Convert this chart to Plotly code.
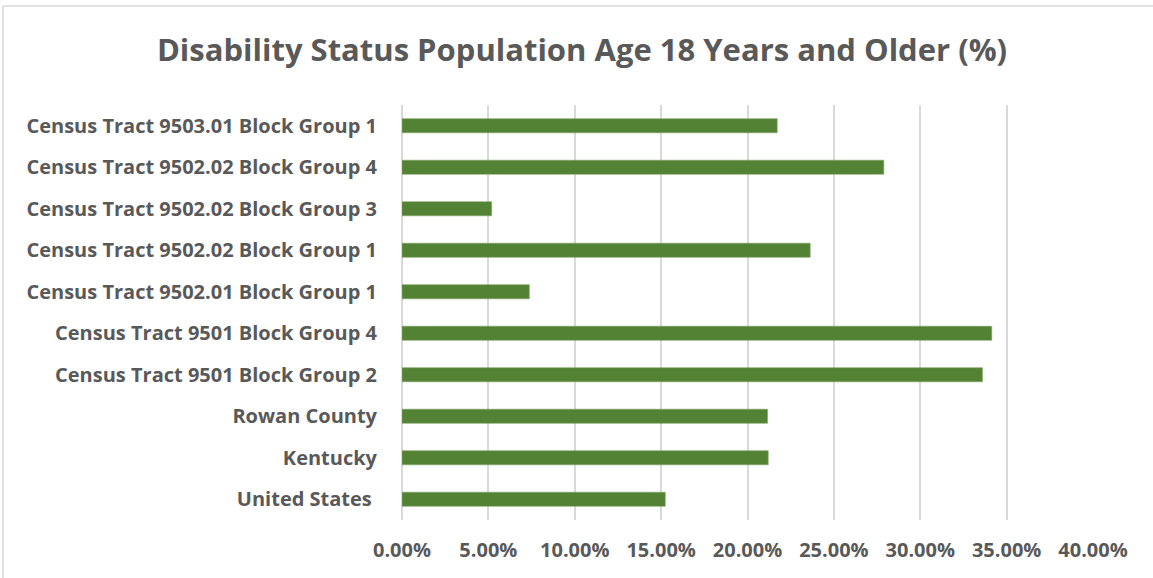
import plotly.graph_objects as go

# Categories listed bottom-to-top as they appear on the y axis
categories = [
    "United States ",
    "Kentucky",
    "Rowan County",
    "Census Tract 9501 Block Group 2",
    "Census Tract 9501 Block Group 4",
    "Census Tract 9502.01 Block Group 1",
    "Census Tract 9502.02 Block Group 1",
    "Census Tract 9502.02 Block Group 3",
    "Census Tract 9502.02 Block Group 4",
    "Census Tract 9503.01 Block Group 1",
]
disability_pct = [0.1524, 0.2120, 0.2116, 0.3360, 0.3414, 0.0737, 0.2363, 0.0519, 0.2789, 0.2172]
tick_values = [0, 0.05, 0.10, 0.15, 0.20, 0.25, 0.30, 0.35, 0.40]
tick_labels = ["0.00%", "5.00%", "10.00%", "15.00%", "20.00%", "25.00%", "30.00%", "35.00%", "40.00%"]

W, H = 1153, 578
ML, MR, MT, MB = 402, 60, 105, 58

TEXT = "#595959"
FONT = "'Open Sans', Lato, sans-serif"

fig = go.Figure(
    go.Bar(
        x=disability_pct,
        y=categories,
        orientation="h",
        marker=dict(color="#548235", line=dict(color="#7fa468", width=0.6)),
        width=0.34,
        hoverinfo="x+y",
    )
)

pw = W - ML - MR
ph = H - MT - MB

fig.update_layout(
    width=W,
    height=H,
    margin=dict(l=ML, r=MR, t=MT, b=MB),
    paper_bgcolor="white",
    plot_bgcolor="white",
    showlegend=False,
    bargap=0.66,
    title=dict(
        text="<b>Disability Status Population Age 18 Years and Older (%)</b>",
        x=582 / W,
        xanchor="center",
        y=1 - 50 / H,
        yanchor="middle",
        font=dict(family=FONT, size=31, color=TEXT),
    ),
    xaxis=dict(
        range=[0, 0.4],
        tickvals=tick_values,
        ticktext=[f"<b>{t}</b>" for t in tick_labels],
        showgrid=True,
        gridcolor="#d9d9d9",
        gridwidth=1.5,
        zeroline=True,
        zerolinecolor="#d9d9d9",
        zerolinewidth=1.5,
        showline=False,
        ticks="outside",
        ticklen=12,
        tickcolor="rgba(0,0,0,0)",
        tickfont=dict(family=FONT, size=20, color=TEXT),
        fixedrange=True,
    ),
    yaxis=dict(
        categoryorder="array",
        categoryarray=categories,
        tickvals=categories,
        ticktext=[f"<b>{c}</b>" for c in categories],
        showgrid=False,
        zeroline=False,
        showline=False,
        ticks="outside",
        ticklen=20,
        tickcolor="rgba(0,0,0,0)",
        tickfont=dict(family=FONT, size=20, color=TEXT),
        fixedrange=True,
    ),
    shapes=[
        # Chart-area frame
        dict(
            type="rect",
            xref="paper",
            yref="paper",
            x0=(3 - ML) / pw,
            x1=(W + 2 - ML) / pw,
            y0=(MB - (H + 2)) / ph,
            y1=(H - 6 - MB) / ph,
            line=dict(color="#d9d9d9", width=1.5),
            fillcolor="rgba(0,0,0,0)",
            layer="below",
        )
    ],
)

fig.write_html("out.html")
